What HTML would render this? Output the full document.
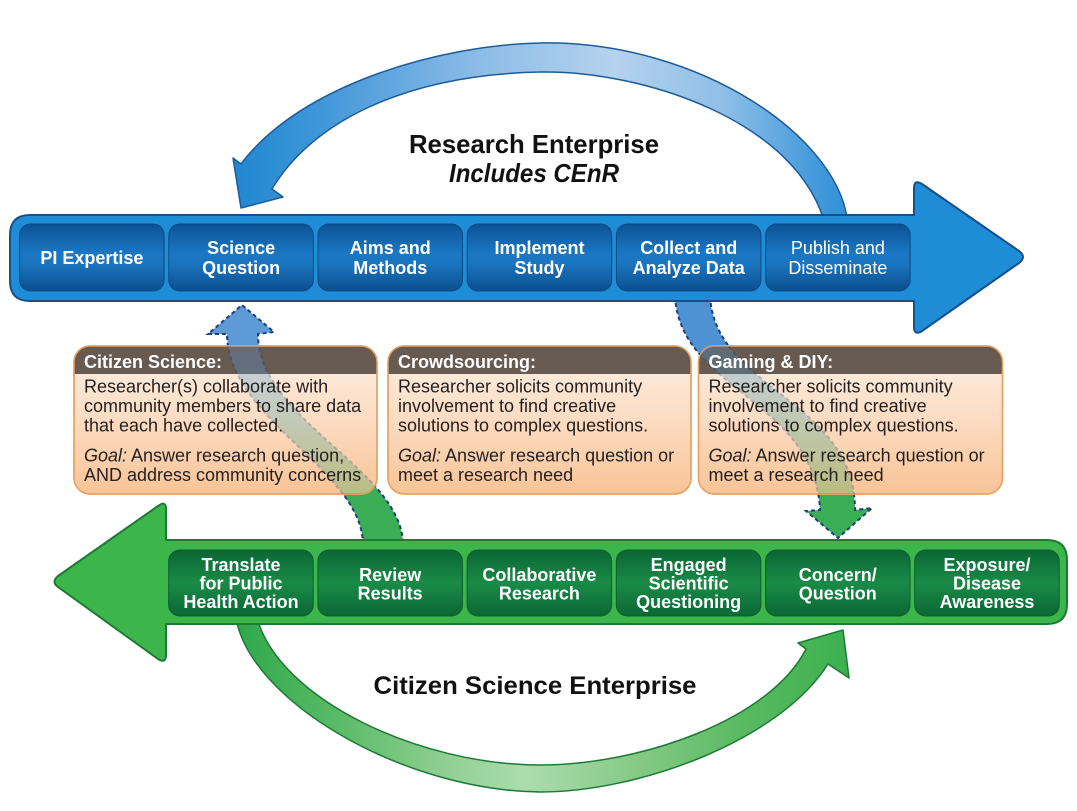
<!DOCTYPE html>
<html>
<head>
<meta charset="utf-8">
<style>
html,body{margin:0;padding:0;background:#fff;}
svg{display:block;font-family:"Liberation Sans",sans-serif;}
</style>
</head>
<body>
<svg width="1077" height="811" viewBox="0 0 1077 811" xmlns="http://www.w3.org/2000/svg">
<defs>
  <linearGradient id="gTop" gradientUnits="userSpaceOnUse" x1="230" y1="0" x2="850" y2="0">
    <stop offset="0" stop-color="#1e86d0"/>
    <stop offset="0.15" stop-color="#4197d9"/>
    <stop offset="0.4" stop-color="#8cbce7"/>
    <stop offset="0.62" stop-color="#b5d2ee"/>
    <stop offset="0.8" stop-color="#8ebee8"/>
    <stop offset="0.93" stop-color="#4a9ddc"/>
    <stop offset="1" stop-color="#2f8fd6"/>
  </linearGradient>
  <linearGradient id="gBot" gradientUnits="userSpaceOnUse" x1="236" y1="0" x2="850" y2="0">
    <stop offset="0" stop-color="#2ea84a"/>
    <stop offset="0.16" stop-color="#58ba66"/>
    <stop offset="0.35" stop-color="#92d095"/>
    <stop offset="0.47" stop-color="#abdcad"/>
    <stop offset="0.65" stop-color="#86ca86"/>
    <stop offset="0.82" stop-color="#5bba62"/>
    <stop offset="1" stop-color="#3bb04e"/>
  </linearGradient>
  <linearGradient id="gC1" gradientUnits="userSpaceOnUse" x1="0" y1="545" x2="0" y2="305">
    <stop offset="0" stop-color="#3aae55"/>
    <stop offset="0.2" stop-color="#3aae55"/>
    <stop offset="0.75" stop-color="#5d9ad6"/>
    <stop offset="1" stop-color="#5d9ad6"/>
  </linearGradient>
  <linearGradient id="gC2" gradientUnits="userSpaceOnUse" x1="0" y1="298" x2="0" y2="538">
    <stop offset="0" stop-color="#4e92d4"/>
    <stop offset="0.2" stop-color="#4e92d4"/>
    <stop offset="0.8" stop-color="#3aae55"/>
    <stop offset="1" stop-color="#3aae55"/>
  </linearGradient>
  <linearGradient id="gBlueBox" x1="0" y1="0" x2="0" y2="1">
    <stop offset="0" stop-color="#0c5296"/>
    <stop offset="0.45" stop-color="#1b78c4"/>
    <stop offset="0.6" stop-color="#1a74be"/>
    <stop offset="1" stop-color="#0b4f90"/>
  </linearGradient>
  <linearGradient id="gGreenBox" x1="0" y1="0" x2="0" y2="1">
    <stop offset="0" stop-color="#0a6634"/>
    <stop offset="0.5" stop-color="#1a8b47"/>
    <stop offset="1" stop-color="#0b6735"/>
  </linearGradient>
  <linearGradient id="gPeach" x1="0" y1="0" x2="0" y2="1">
    <stop offset="0" stop-color="#fdf0e6"/>
    <stop offset="0.5" stop-color="#fcdcc2"/>
    <stop offset="1" stop-color="#f8c497"/>
  </linearGradient>
  <clipPath id="boxClip">
    <rect x="74" y="346" width="303" height="148" rx="16"/>
    <rect x="388" y="346" width="303" height="148" rx="16"/>
    <rect x="698.5" y="346" width="304" height="148" rx="16"/>
  </clipPath>
  <clipPath id="hdr1"><rect x="74" y="346" width="303" height="28"/></clipPath>
  <clipPath id="hdr2"><rect x="388" y="346" width="303" height="28"/></clipPath>
  <clipPath id="hdr3"><rect x="698.5" y="346" width="304" height="28"/></clipPath>
</defs>

<!-- Top arc -->
<path d="M 848 228 C 845 140, 700 40, 540 43 C 440 45, 300 85, 241 164 L 233 158 L 241 208 L 283 197 L 272 189 C 310 125, 400 75, 540 72 C 640 70, 800 120, 826 228 Z"
      fill="url(#gTop)" stroke="#1d5c98" stroke-width="1.5" stroke-linejoin="round"/>

<!-- Bottom arc -->
<path d="M 236 618 C 250 700, 400 790, 540 792 C 640 792, 780 740, 828 664 L 849 678 L 843 630 L 798 643 L 806 649 C 770 720, 640 765, 540 765 C 420 765, 280 700, 257 618 Z"
      fill="url(#gBot)" stroke="#1c7a35" stroke-width="1.5" stroke-linejoin="round"/>

<!-- Connector 1 (green bar up to Science Question) -->
<path d="M 363 545 C 363 470, 228 420, 227 334 L 208 334 L 242 305 L 274 332 L 258 334 C 258 420, 403 470, 403 545 Z" fill="url(#gC1)"/>
<path d="M 363 545 C 363 470, 228 420, 227 334 L 208 334 L 242 305 L 274 332 L 258 334 C 258 420, 403 470, 403 545" fill="none" stroke="#1e3f7a" stroke-width="2" stroke-dasharray="4 3"/>

<!-- Connector 2 (blue bar down to Concern/Question) -->
<path d="M 675 296 C 680 390, 815 400, 820 510 L 806 511 L 838 538 L 872 508 L 855 510 C 855 400, 715 390, 710 296 Z" fill="url(#gC2)"/>
<path d="M 675 296 C 680 390, 815 400, 820 510 L 806 511 L 838 538 L 872 508 L 855 510 C 855 400, 715 390, 710 296" fill="none" stroke="#1e3f7a" stroke-width="2" stroke-dasharray="4 3"/>

<!-- Blue bar -->
<path d="M 30 215 L 914 215 L 914 188 Q 914 179 922 184 L 1019 251 Q 1027 257 1019 263 L 922 331 Q 914 336 914 327 L 914 301 L 30 301 Q 10 301 10 281 L 10 235 Q 10 215 30 215 Z"
      fill="#1f8dd6" stroke="#15508c" stroke-width="2" stroke-linejoin="round"/>
<g fill="url(#gBlueBox)" stroke="#0c4a86" stroke-width="1">
  <rect x="19.6" y="224" width="144.5" height="67" rx="11"/>
  <rect x="168.8" y="224" width="144.5" height="67" rx="11"/>
  <rect x="318" y="224" width="144.5" height="67" rx="11"/>
  <rect x="467.2" y="224" width="144.5" height="67" rx="11"/>
  <rect x="616.4" y="224" width="144.5" height="67" rx="11"/>
  <rect x="765.6" y="224" width="144.5" height="67" rx="11"/>
</g>
<g fill="#ffffff" font-size="18" font-weight="bold" text-anchor="middle">
  <text x="91.9" y="264">PI Expertise</text>
  <text x="241.1" y="254">Science</text><text x="241.1" y="274">Question</text>
  <text x="390.3" y="254">Aims and</text><text x="390.3" y="274">Methods</text>
  <text x="539.5" y="254">Implement</text><text x="539.5" y="274">Study</text>
  <text x="688.7" y="254">Collect and</text><text x="688.7" y="274">Analyze Data</text>
  <text x="837.9" y="254" font-weight="normal">Publish and</text><text x="837.9" y="274" font-weight="normal">Disseminate</text>
</g>

<!-- Green bar -->
<path d="M 166 540 L 1047 540 Q 1067 540 1067 560 L 1067 604 Q 1067 624 1047 624 L 166 624 L 166 655 Q 166 664 158 659 L 58 587 Q 51 582 58 576 L 158 506 Q 166 500 166 509 Z"
      fill="#3cb54a" stroke="#1c7a36" stroke-width="2" stroke-linejoin="round"/>
<g fill="url(#gGreenBox)" stroke="#0b5e2f" stroke-width="1">
  <rect x="168.7" y="550" width="144.5" height="66" rx="11"/>
  <rect x="317.9" y="550" width="144.5" height="66" rx="11"/>
  <rect x="467.1" y="550" width="144.5" height="66" rx="11"/>
  <rect x="616.3" y="550" width="144.5" height="66" rx="11"/>
  <rect x="765.5" y="550" width="144.5" height="66" rx="11"/>
  <rect x="914.7" y="550" width="144.5" height="66" rx="11"/>
</g>
<g fill="#ffffff" font-size="18" font-weight="bold" text-anchor="middle">
  <text x="241" y="571">Translate</text><text x="241" y="589.5">for Public</text><text x="241" y="608">Health Action</text>
  <text x="390.2" y="581">Review</text><text x="390.2" y="599.5">Results</text>
  <text x="539.4" y="581">Collaborative</text><text x="539.4" y="599.5">Research</text>
  <text x="688.6" y="571">Engaged</text><text x="688.6" y="589.5">Scientific</text><text x="688.6" y="608">Questioning</text>
  <text x="837.8" y="581">Concern/</text><text x="837.8" y="599.5">Question</text>
  <text x="987" y="571">Exposure/</text><text x="987" y="589.5">Disease</text><text x="987" y="608">Awareness</text>
</g>

<!-- Orange boxes -->
<g stroke="#e8a262" stroke-width="1.5">
  <rect x="74" y="346" width="303" height="148" rx="16" fill="url(#gPeach)"/>
  <rect x="388" y="346" width="303" height="148" rx="16" fill="url(#gPeach)"/>
  <rect x="698.5" y="346" width="304" height="148" rx="16" fill="url(#gPeach)"/>
</g>
<g fill="#675a51">
  <rect x="74" y="346" width="303" height="60" rx="16" clip-path="url(#hdr1)"/>
  <rect x="388" y="346" width="303" height="60" rx="16" clip-path="url(#hdr2)"/>
  <rect x="698.5" y="346" width="304" height="60" rx="16" clip-path="url(#hdr3)"/>
</g>
<g fill="none" stroke="#e8a262" stroke-width="1.5">
  <rect x="74" y="346" width="303" height="148" rx="16"/>
  <rect x="388" y="346" width="303" height="148" rx="16"/>
  <rect x="698.5" y="346" width="304" height="148" rx="16"/>
</g>

<!-- Translucent connector overlay on boxes -->
<g clip-path="url(#boxClip)" opacity="0.32">
  <path d="M 363 545 C 363 470, 228 420, 227 334 L 208 334 L 242 305 L 274 332 L 258 334 C 258 420, 403 470, 403 545 Z" fill="url(#gC1)"/>
  <path d="M 363 545 C 363 470, 228 420, 227 334 M 258 334 C 258 420, 403 470, 403 545" fill="none" stroke="#1e3f7a" stroke-width="2" stroke-dasharray="4 3"/>
  <path d="M 675 296 C 680 390, 815 400, 820 510 L 806 511 L 838 538 L 872 508 L 855 510 C 855 400, 715 390, 710 296 Z" fill="url(#gC2)"/>
  <path d="M 675 296 C 680 390, 815 400, 820 510 M 855 510 C 855 400, 715 390, 710 296" fill="none" stroke="#1e3f7a" stroke-width="2" stroke-dasharray="4 3"/>
</g>

<!-- Box texts -->
<g fill="#ffffff" font-size="18" font-weight="bold">
  <text x="84" y="368">Citizen Science:</text>
  <text x="398" y="368">Crowdsourcing:</text>
  <text x="708.5" y="368">Gaming &amp; DIY:</text>
</g>
<g fill="#231f20" font-size="18">
  <text x="84" y="392.5">Researcher(s) collaborate with</text>
  <text x="84" y="412">community members to share data</text>
  <text x="84" y="431.5">that each have collected.</text>
  <text x="84" y="461.5"><tspan font-style="italic">Goal:</tspan> Answer research question,</text>
  <text x="84" y="481">AND address community concerns</text>

  <text x="398" y="392.5">Researcher solicits community</text>
  <text x="398" y="412">involvement to find creative</text>
  <text x="398" y="431.5">solutions to complex questions.</text>
  <text x="398" y="461.5"><tspan font-style="italic">Goal:</tspan> Answer research question or</text>
  <text x="398" y="481">meet a research need</text>

  <text x="708.5" y="392.5">Researcher solicits community</text>
  <text x="708.5" y="412">involvement to find creative</text>
  <text x="708.5" y="431.5">solutions to complex questions.</text>
  <text x="708.5" y="461.5"><tspan font-style="italic">Goal:</tspan> Answer research question or</text>
  <text x="708.5" y="481">meet a research need</text>
</g>

<!-- Titles -->
<g fill="#111" font-weight="bold" text-anchor="middle">
  <text x="534" y="153" font-size="26" textLength="250" lengthAdjust="spacingAndGlyphs">Research Enterprise</text>
  <text x="534" y="182" font-size="26" font-style="italic" textLength="170" lengthAdjust="spacingAndGlyphs">Includes CEnR</text>
  <text x="535" y="694" font-size="25" textLength="323" lengthAdjust="spacingAndGlyphs">Citizen Science Enterprise</text>
</g>
</svg>
</body>
</html>
